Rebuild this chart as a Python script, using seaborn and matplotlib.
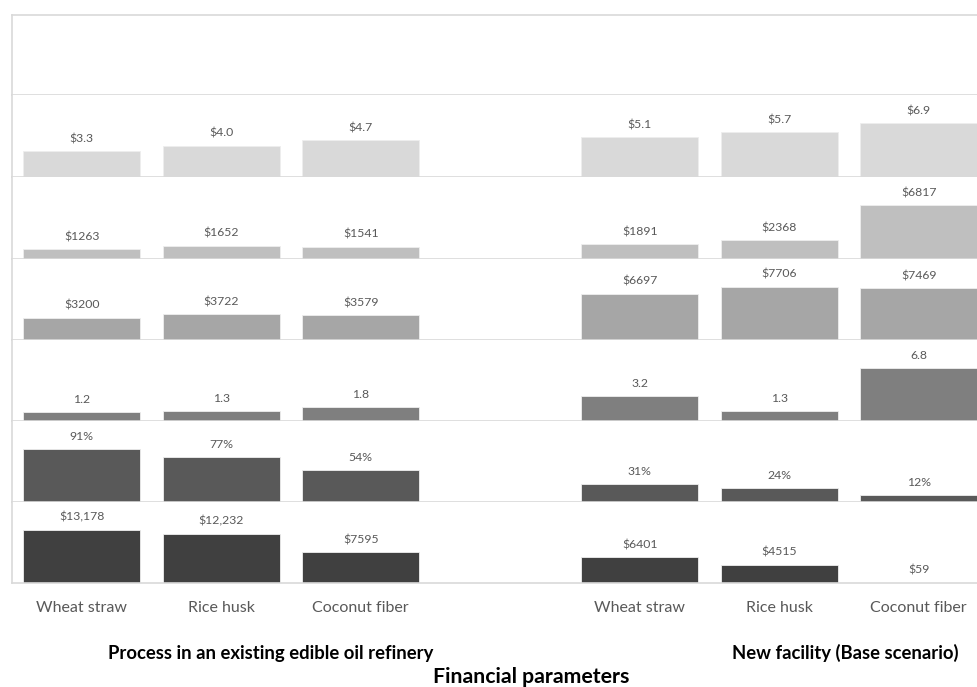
import matplotlib
matplotlib.use("Agg")
import matplotlib.pyplot as plt
import seaborn as sns
import pandas as pd

# ---- data ----
categories = ["Wheat straw", "Rice husk", "Coconut fiber"]
groups = ["Process in an existing edible oil refinery", "New facility (Base scenario)"]
xlabel = "Financial parameters"

row1 = [3.3, 4.0, 4.7, 5.1, 5.7, 6.9]
row2 = [1263, 1652, 1541, 1891, 2368, 6817]
row3 = [3200, 3722, 3579, 6697, 7706, 7469]
row4 = [1.2, 1.3, 1.8, 3.2, 1.3, 6.8]
row5 = [91, 77, 54, 31, 24, 12]
row6 = [13178, 12232, 7595, 6401, 4515, 59]

rows = [row1, row2, row3, row4, row5, row6]
formats = [
    lambda v: f"${v:.1f}",
    lambda v: f"${v:d}",
    lambda v: f"${v:d}",
    lambda v: f"{v:.1f}",
    lambda v: f"{v:d}%",
    lambda v: f"${v:,}" if v >= 10000 else f"${v:d}",
]
colors = ["#d9d9d9", "#bfbfbf", "#a6a6a6", "#7f7f7f", "#595959", "#404040"]

# slots: 3 categories, empty gap, 3 categories
slot_keys = ["a0", "a1", "a2", "gap", "b0", "b1", "b2"]
bar_keys = ["a0", "a1", "a2", "b0", "b1", "b2"]
slot_labels = categories + [""] + categories

sns.set_theme(style="white")
plt.rcParams["font.family"] = ["Lato", "DejaVu Sans"]

W, H = 978, 687
fig = plt.figure(figsize=(W / 100, H / 100), dpi=100)

grid_col = "#d9d9d9"
text_col = "#595959"
left_px = 12
unit_px = 139.5
right_lim = (W - left_px) / unit_px - 0.5
bounds = [15, 95, 177, 259, 340, 421, 502, 583]

def px_axes(top, bottom):
    return fig.add_axes([left_px / W, 1 - bottom / H, (W - left_px) / W, (bottom - top) / H])

# empty top panel
ax0 = px_axes(bounds[0], bounds[1])
ax0.set_xlim(-0.5, right_lim)
ax0.set_xticks([]); ax0.set_yticks([])
ax0.spines["right"].set_visible(False)
for s in ["top", "left", "bottom"]:
    ax0.spines[s].set_color(grid_col)
    ax0.spines[s].set_linewidth(1.2)

for i, (vals, fmt, col) in enumerate(zip(rows, formats, colors)):
    ax = px_axes(bounds[i + 1], bounds[i + 2])
    df = pd.DataFrame({"slot": bar_keys, "value": vals})
    sns.barplot(data=df, x="slot", y="value", order=slot_keys, color=col,
                width=0.84, saturation=1, ax=ax, edgecolor="#eeeeee", linewidth=0.6)
    ax.set_xlim(-0.5, right_lim)
    ax.set_ylim(0, max(vals) * 1.52)
    ax.set_yticks([])
    ax.set_ylabel(""); ax.set_xlabel("")
    for s in ["top", "right"]:
        ax.spines[s].set_visible(False)
    for s in ["left", "bottom"]:
        ax.spines[s].set_color(grid_col)
        ax.spines[s].set_linewidth(1.2)
    for k, v in zip(bar_keys, vals):
        xpos = slot_keys.index(k)
        ax.annotate(fmt(v), (xpos, v), xytext=(0, 5), textcoords="offset points",
                    ha="center", va="bottom", fontsize=8.8, color=text_col)
    if i < 5:
        ax.set_xticks([])
    else:
        ax.set_xticks(range(len(slot_keys)))
        ax.set_xticklabels(slot_labels, fontsize=11.5, color=text_col)
        ax.tick_params(axis="x", length=0, pad=13)

fig.text(271 / W, 1 - 653 / H, groups[0], ha="center", va="center",
         fontsize=13.3, fontweight="bold", color="black")
fig.text(845 / W, 1 - 653 / H, groups[1], ha="center", va="center",
         fontsize=13.3, fontweight="bold", color="black")
fig.text(531 / W, 1 - 677 / H, xlabel, ha="center", va="center",
         fontsize=15.3, fontweight="bold", color="black")

fig.savefig("out.png", dpi=100)
